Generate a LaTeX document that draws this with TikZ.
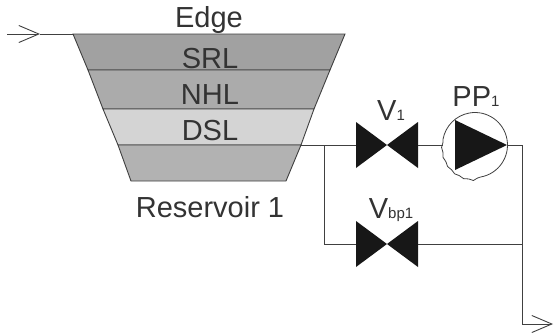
\documentclass[tikz,border=0pt]{standalone}
\usepackage{fontspec}
\setmainfont{Liberation Sans}
\usepackage{xcolor}
\usetikzlibrary{arrows.meta,decorations.pathmorphing}
\definecolor{pipeline}{gray}{0.25}
\definecolor{labelgray}{gray}{0.2}
\definecolor{valveblack}{gray}{0.09}
\tikzset{
    pipe/.style={draw=pipeline, line width=0.9pt},
    layer/.style={draw=pipeline, line width=0.9pt},
    lbl/.style={anchor=base, inner sep=0pt, text=labelgray, font=\fontsize{29}{30}\selectfont},
    valve/.pic={
        \fill[valveblack] (-31,-23) -- (31,23) -- (31,-23) -- (-31,23) -- cycle;
        \coordinate (-in) at (-31,0);
        \coordinate (-out) at (31,0);
    }
}
\newcommand{\subs}[1]{{\fontsize{15}{15}\selectfont #1}}
\begin{document}
\begin{tikzpicture}[x=1pt, y=-1pt, >={Straight Barb[length=20pt,width=17pt]}]
    \useasboundingbox (0,0) rectangle (555,333);
    % Reservoir layers
    \filldraw[layer, fill=black!37] (73,34) -- (345,34) -- (330,70) -- (88,70) -- cycle;
    \filldraw[layer, fill=black!33] (88,70) -- (330,70) -- (314,109) -- (103,109) -- cycle;
    \filldraw[layer, fill=black!17] (103,109) -- (314,109) -- (301,145) -- (118,145) -- cycle;
    \filldraw[layer, fill=black!30] (118,145) -- (301,145) -- (286,181) -- (131,181) -- cycle;
    % Reservoir labels
    \node[lbl] (edge) at (209,27) {Edge};
    \node[lbl] (srl) at (210,68) {SRL};
    \node[lbl] (nhl) at (210,104) {NHL};
    \node[lbl] (dsl) at (210,140) {DSL};
    \node[lbl] (res) at (210,217) {Reservoir 1};
    % Pipe junctions
    \coordinate (inflow) at (7,34);
    \coordinate (inhead) at (40,34);
    \coordinate (rim) at (73,34);
    \coordinate (outlet) at (301,145);
    \coordinate (teeL) at (324,145);
    \coordinate (cornerL) at (324,244);
    \coordinate (cornerR) at (522,145);
    \coordinate (teeR) at (522,244);
    \coordinate (drop) at (522,324);
    \coordinate (outflow) at (553,324);
    % Valves
    \pic (vmain) at (387,145) {valve};
    \pic (vbypass) at (387,244) {valve};
    \node[lbl] (vmainlbl) at (391,120) {V\subs{1}};
    \node[lbl] (vbypasslbl) at (391,218) {V\subs{bp1}};
    % Pump, rippled along its lower left
    \coordinate (pump) at (475,145);
    \coordinate (pumpin) at (443,145);
    \coordinate (pumpout) at (507,145);
    \draw[pipeline, line width=0.8pt] (pump) ++(80:32.5) arc[start angle=80, end angle=-170, radius=32.5];
    \draw[pipeline, line width=0.8pt, decorate, decoration={snake, amplitude=0.5pt, segment length=10pt}]
        (pump) ++(190:32.5) arc[start angle=190, end angle=80, radius=32.5];
    \fill[valveblack] (455,120) -- (pumpout) -- (455,170) -- cycle;
    \node[lbl] (pumplbl) at (476,106) {PP\subs{1}};
    % Pipes
    \draw[pipe, ->] (inflow) -- (inhead);
    \draw[pipe] (inhead) -- (rim);
    \draw[pipe] (outlet) -- (vmain-in);
    \draw[pipe] (vmain-out) -- (pumpin);
    \draw[pipe] (pumpout) -- (cornerR) -- (teeR);
    \draw[pipe] (teeL) -- (cornerL) -- (vbypass-in);
    \draw[pipe] (vbypass-out) -- (teeR);
    \draw[pipe, ->] (teeR) -- (drop) -- (outflow);
\end{tikzpicture}
\end{document}
